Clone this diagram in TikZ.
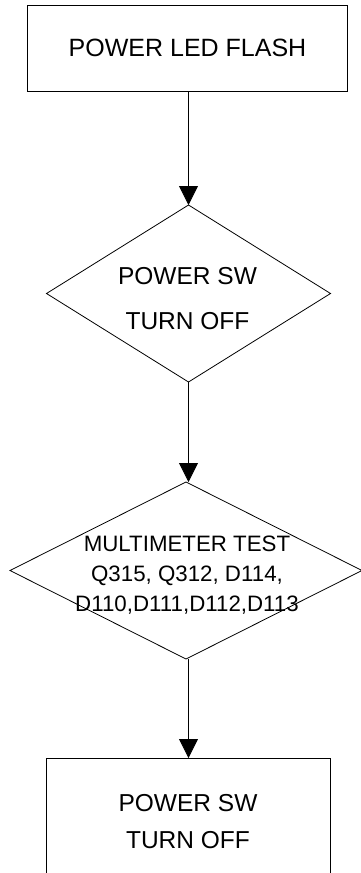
\documentclass[tikz,border=0pt]{standalone}
\usepackage{fontspec}
\setmainfont{Liberation Sans}
\usetikzlibrary{shapes.geometric,arrows.meta}
\begin{document}
\begin{tikzpicture}[x=1pt,y=-1pt,
  boxnode/.style={draw, line width=0.8pt, rectangle, inner sep=0pt, outer sep=0pt},
  diam/.style={draw, line width=0.8pt, diamond, inner sep=0pt, outer sep=0pt},
  lbl/.style={inner sep=0pt, align=center},
  conn/.style={draw, line width=0.8pt, -{Triangle[width=19pt,length=19pt]}}]
\useasboundingbox (0,0) rectangle (360,873);
\node[boxnode, minimum width=320pt, minimum height=86pt, font=\fontsize{25}{30}\selectfont] (b1) at (187.5,48) {POWER LED FLASH};
\node[diam, minimum width=284pt, minimum height=177pt] (d1) at (188.5,293.5) {};
\node[lbl, font=\fontsize{24.5}{45}\selectfont] (t1) at (187.5,298.5) {POWER SW\\TURN OFF};
\node[diam, minimum width=352pt, minimum height=177pt] (d2) at (186,570.5) {};
\node[lbl, font=\fontsize{22.3}{30}\selectfont] (t2) at (187,575) {MULTIMETER TEST\\Q315, Q312, D114,\\D110,D111,D112,D113};
\node[boxnode, minimum width=284pt, minimum height=127pt, align=center, font=\fontsize{24.5}{37}\selectfont] (b2) at (188,821.5) {POWER SW\\TURN OFF};
\draw[conn] (d1.north |- b1.south) -- (d1.north);
\draw[conn] (d1.south) -- (d1.south |- d2.north);
\draw[conn] (d1.south |- d2.south) -- (d1.south |- b2.north);
\end{tikzpicture}
\end{document}
